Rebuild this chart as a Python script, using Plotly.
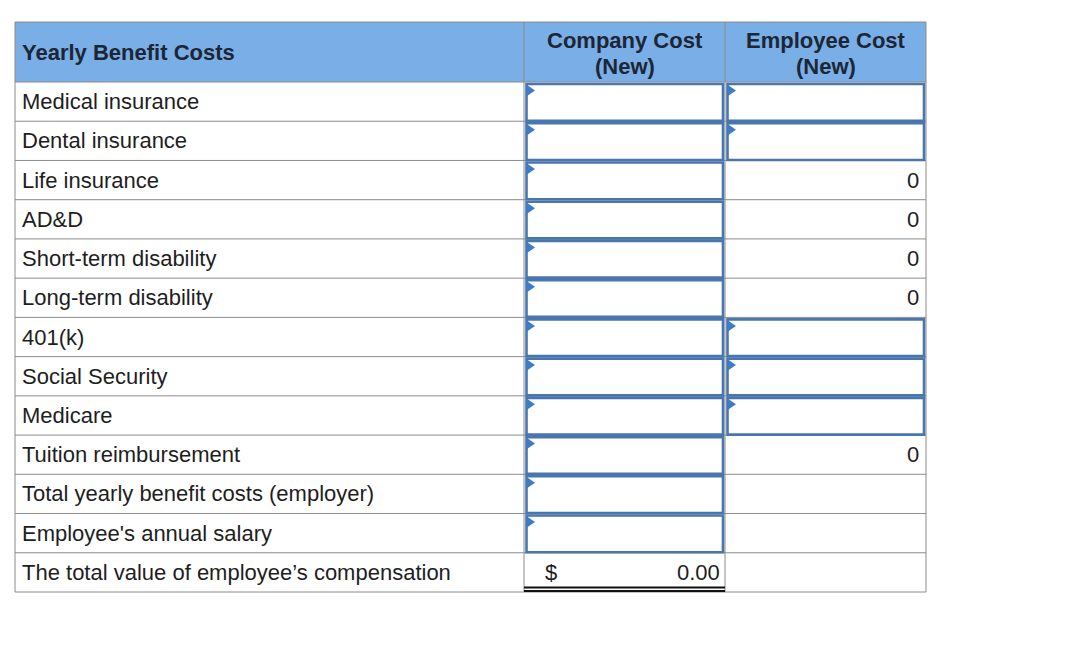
import plotly.graph_objects as go

# ---------------- data ----------------
row_labels = [
    "Medical insurance",
    "Dental insurance",
    "Life insurance",
    "AD&D",
    "Short-term disability",
    "Long-term disability",
    "401(k)",
    "Social Security",
    "Medicare",
    "Tuition reimbursement",
    "Total yearly benefit costs (employer)",
    "Employee's annual salary",
    "The total value of employee\u2019s compensation",
]
col_headers = ["Yearly Benefit Costs", "Company Cost<br>(New)", "Employee Cost<br>(New)"]
# "input" = empty entry box, number = shown value, None = blank cell
company_cells = ["input"] * 12 + [0.00]
employee_cells = ["input", "input", 0, 0, 0, 0, "input", "input", "input", 0, None, None, None]
currency_rows = [12]  # rows shown as "$ ... 0.00"

# ---------------- layout constants ----------------
W, H = 1074, 667
col_edges = [15, 524, 725, 926]
header_top, header_bottom = 22, 82
row_h = (592 - header_bottom) / len(row_labels)
header_line_gap = 26
grid_color = "#8c8c8c"
header_fill = "#7aaee6"
header_text = "#1c2635"
body_text = "#1e1e1e"
box_color = "#4a76b0"
tri_color = "#3d7cc9"
FONT = "Liberation Sans, Arial, sans-serif"
FS = 22

fig = go.Figure()
shapes = []
ann = []


def row_top(i):
    return header_bottom + i * row_h


# header background
shapes.append(dict(type="rect", xref="x", yref="y", x0=col_edges[0], x1=col_edges[-1],
                   y0=header_top, y1=header_bottom, fillcolor=header_fill, line=dict(width=0), layer="below"))

# horizontal grid lines
ys = [header_top, header_bottom] + [row_top(i + 1) for i in range(len(row_labels))]
for y in ys:
    shapes.append(dict(type="line", xref="x", yref="y", x0=col_edges[0], x1=col_edges[-1], y0=y, y1=y,
                       line=dict(color=grid_color, width=1)))
# vertical grid lines
for x in col_edges:
    shapes.append(dict(type="line", xref="x", yref="y", x0=x, x1=x, y0=header_top, y1=ys[-1],
                       line=dict(color=grid_color, width=1)))

# header texts
hmid = (header_top + header_bottom) / 2
ann.append(dict(x=col_edges[0] + 5, y=hmid, text="<b>%s</b>" % col_headers[0],
                xanchor="left", yanchor="middle", showarrow=False,
                font=dict(family=FONT, size=FS, color=header_text)))
for c in (1, 2):
    lines = col_headers[c].split("<br>")
    n = len(lines)
    for k, line in enumerate(lines):
        ann.append(dict(x=(col_edges[c] + col_edges[c + 1]) / 2,
                        y=hmid + 1 + (k - (n - 1) / 2) * header_line_gap,
                        text="<b>%s</b>" % line, xanchor="center", yanchor="middle",
                        showarrow=False, font=dict(family=FONT, size=FS, color=header_text)))

# row labels
for i, lab in enumerate(row_labels):
    ann.append(dict(x=col_edges[0] + 5, y=row_top(i) + row_h / 2, text=lab, xanchor="left", yanchor="middle",
                    showarrow=False, font=dict(family=FONT, size=FS, color=body_text)))


def draw_cells(cells, c):
    x0, x1 = col_edges[c], col_edges[c + 1]
    for i, v in enumerate(cells):
        t, b = row_top(i), row_top(i + 1)
        if v == "input":
            shapes.append(dict(type="rect", xref="x", yref="y", x0=x0 + 2.5, x1=x1 - 2, y0=t + 2, y1=b - 0.5,
                               fillcolor="white", line=dict(color=box_color, width=2.6)))
            tx, ty = x0 + 3, t + 3
            shapes.append(dict(type="path", xref="x", yref="y",
                               path="M %f,%f L %f,%f L %f,%f Z" % (tx, ty, tx + 8, ty + 5.5, tx, ty + 11),
                               fillcolor=tri_color, line=dict(width=0)))
        elif v is None:
            continue
        elif i in currency_rows:
            ann.append(dict(x=x0 + 27, y=t + row_h / 2, text="$", xanchor="center", yanchor="middle",
                            showarrow=False, font=dict(family=FONT, size=FS, color=body_text)))
            ann.append(dict(x=x1 - 3, y=t + row_h / 2, text="%.2f" % v, xanchor="right", yanchor="middle",
                            showarrow=False, font=dict(family=FONT, size=FS, color=body_text)))
            for dy in (-4.5, -1):
                shapes.append(dict(type="line", xref="x", yref="y", x0=x0, x1=x1, y0=b + dy, y1=b + dy,
                                   line=dict(color="#111111", width=2)))
        else:
            ann.append(dict(x=x1 - 5, y=t + row_h / 2, text=str(v), xanchor="right", yanchor="middle",
                            showarrow=False, font=dict(family=FONT, size=FS, color=body_text)))


draw_cells(company_cells, 1)
draw_cells(employee_cells, 2)

fig.update_layout(
    width=W, height=H, margin=dict(l=0, r=0, t=0, b=0),
    paper_bgcolor="white", plot_bgcolor="white",
    xaxis=dict(range=[0, W], visible=False, fixedrange=True),
    yaxis=dict(range=[H, 0], visible=False, fixedrange=True),
    shapes=shapes, annotations=ann, showlegend=False,
)

fig.write_html("out.html", config={"displayModeBar": False},
               post_script="document.body.style.margin='0';")
